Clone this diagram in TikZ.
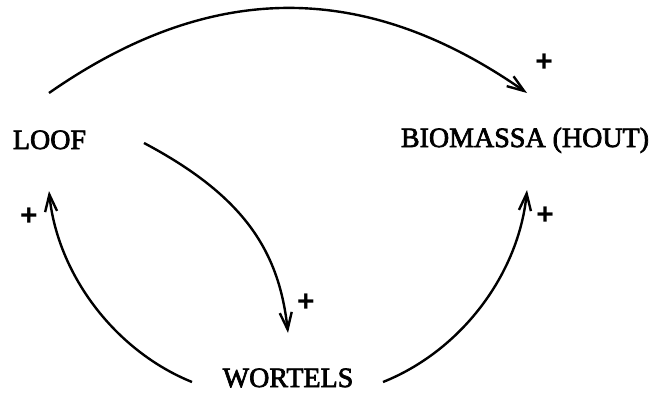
\documentclass[tikz,border=0pt]{standalone}
\usepackage{fontspec}
\setmainfont{Liberation Serif}
\newfontfamily\scanfont[FakeBold=2.5]{Liberation Serif}
\newfontfamily\plusfont{Liberation Sans}
\usetikzlibrary{arrows.meta,calc}
\begin{document}
\begin{tikzpicture}[x=1pt,y=1pt,
  lbl/.style={font=\scanfont\fontsize{28}{30}\selectfont, inner sep=0pt, anchor=base},
  pls/.style={font=\plusfont\bfseries\fontsize{30}{32}\selectfont, inner sep=0pt},
  conn/.style={line width=2.4pt, -{Straight Barb[length=17pt,width=12pt,line width=2.4pt]}}]
\useasboundingbox[fill=white] (0,0) rectangle (652,392);
\node[lbl] (loof) at (49.5,243) {LOOF};
\node[lbl] (bio) at (525,245) {BIOMASSA (HOUT)};
\node[lbl] (wort) at (288,5) {WORTELS};
\node[pls] (p1) at (544,329) {+};
\node[pls] (p2) at (306,89) {+};
\node[pls] (p3) at (29,175) {+};
\node[pls] (p4) at (545,176) {+};
\draw[conn] ($(loof.base)+(-0.5,56)$) .. controls +(162,113) and +(-162,113) .. ($(bio.base)+(2,54)$);
\draw[conn] ($(loof.base)+(94.5,6)$) .. controls +(100,-53) and +(-9,82) .. ($(wort.base)+(0,54)$);
\draw[conn] ($(wort.base)+(-96,5)$) .. controls +(-77.4,31.3) and +(8.4,-83) .. ($(loof.base)+(-0.5,-42)$);
\draw[conn] ($(wort.base)+(95,5)$) .. controls +(78.4,31.3) and +(-8.4,-84) .. ($(bio.base)+(2,-43)$);
\end{tikzpicture}
\end{document}
